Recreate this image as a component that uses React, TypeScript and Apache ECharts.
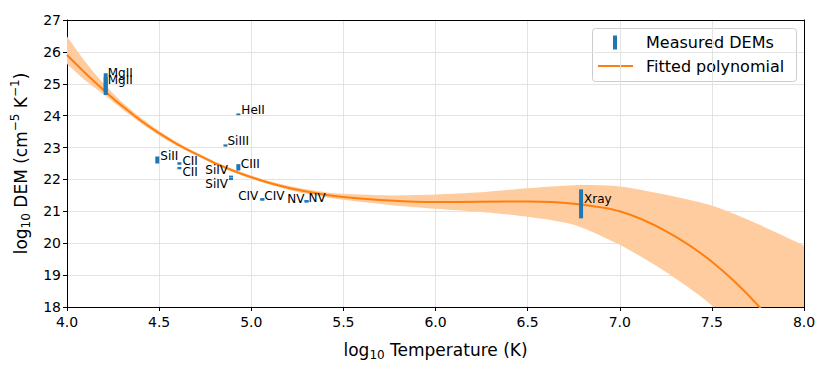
import React, { useEffect, useRef } from "react";
import * as echarts from "echarts";

// Measured DEMs (error bars)
const lineNames = ["MgII", "MgII", "SiII", "CII", "CII", "SiIV", "SiIV", "CIII", "SiIII", "HeII", "CIV", "CIV", "NV", "NV", "Xray"];
const lineTemps = [4.21, 4.21, 4.49, 4.61, 4.61, 4.89, 4.89, 4.93, 4.86, 4.93, 5.06, 5.06, 5.3, 5.3, 6.79];
const demLow = [24.75, 24.65, 22.5, 22.46, 22.32, 22.06, 21.98, 22.28, 23.03, 24.04, 21.34, 21.34, 21.28, 21.28, 20.78];
const demHigh = [25.33, 25.2, 22.72, 22.54, 22.39, 22.12, 22.05, 22.48, 23.1, 24.07, 21.41, 21.41, 21.35, 21.35, 21.69];

// Fitted polynomial and its uncertainty band
const fitT = [4.0, 4.1, 4.2, 4.3, 4.4, 4.5, 4.6, 4.7, 4.8, 4.9, 5.0, 5.1, 5.2, 5.3, 5.4, 5.5, 5.75, 6.0, 6.25, 6.5, 6.75, 7.0, 7.25, 7.5, 7.75, 8.0];
const fitD = [25.9, 25.33, 24.8, 24.3, 23.85, 23.45, 23.1, 22.8, 22.52, 22.28, 22.07, 21.89, 21.74, 21.62, 21.52, 21.45, 21.34, 21.29, 21.3, 21.31, 21.24, 21.0, 20.38, 19.42, 18.05, 16.2];
const bandLow = [25.62, 25.1, 24.66, 24.2, 23.77, 23.38, 23.04, 22.75, 22.47, 22.23, 22.02, 21.84, 21.68, 21.55, 21.44, 21.36, 21.2, 21.08, 20.98, 20.83, 20.58, 19.95, 19.1, 18.05, 16.5, 14.5];
const bandHigh = [26.48, 25.68, 25.0, 24.42, 23.94, 23.52, 23.16, 22.85, 22.57, 22.33, 22.12, 21.94, 21.8, 21.69, 21.6, 21.55, 21.5, 21.53, 21.6, 21.72, 21.82, 21.78, 21.52, 21.18, 20.6, 19.93];

// Axis ticks
const xTicks = { min: 4, max: 8, step: 0.5 };
const yTicks = { min: 18, max: 27, step: 1 };

// Label placement (pixel offsets from top of each bar), style only
const labelOffsets: [number, number, string][] = [
  [2, 0, "left"], [2, 3, "left"], [3, 0, "left"], [3, -1.5, "left"], [3, 5, "left"],
  [-3, -5.5, "right"], [-3, 6, "right"], [2.5, 0, "left"], [2, -3, "left"], [3, -3.5, "left"],
  [-4, -2, "right"], [2, -2, "left"], [-2, -1, "right"], [2, -2, "left"], [3, 10, "left"],
];

const FONT = "DejaVu Sans";
const BLUE = "#1f77b4";
const ORANGE = "#ff7f0e";
const BAND = "#ffcc9f";

export default function App() {
  const ref = useRef<HTMLDivElement>(null);
  useEffect(() => {
    document.body.style.margin = "0";
    const chart = echarts.init(ref.current!, null, { renderer: "svg" });
    const rich = {
      n: { fontSize: 17, fontFamily: FONT, color: "#000" },
      s: { fontSize: 12, fontFamily: FONT, color: "#000", verticalAlign: "bottom", padding: [0, 0, -3, 0] },
      p: { fontSize: 12, fontFamily: FONT, color: "#000", verticalAlign: "top", padding: [-3, 0, 0, 0] },
    };
    const option: any = {
      animation: false,
      grid: { left: 67, right: 26, top: 20, bottom: 62, containLabel: false },
      xAxis: [
        {
          type: "value", min: xTicks.min, max: xTicks.max, interval: xTicks.step, position: "bottom",
          axisLine: { show: true, onZero: false, lineStyle: { color: "#000", width: 1 } },
          axisTick: { show: true, length: 4, lineStyle: { color: "#000" } },
          axisLabel: { color: "#000", fontSize: 14, fontFamily: FONT, margin: 8, formatter: (v: number) => v.toFixed(1) },
          splitLine: { show: true, lineStyle: { color: "#e3e3e3", width: 1 } },
          name: "{n|log}{s|10}{n| Temperature (K)}",
          nameLocation: "middle", nameGap: 34,
          nameTextStyle: { fontSize: 17, fontFamily: FONT, color: "#000", rich },
        },
        {
          type: "value", min: xTicks.min, max: xTicks.max, position: "top",
          axisLine: { show: true, onZero: false, lineStyle: { color: "#000", width: 1 } },
          axisTick: { show: false }, axisLabel: { show: false }, splitLine: { show: false },
        },
      ],
      yAxis: [
        {
          type: "value", min: yTicks.min, max: yTicks.max, interval: yTicks.step, position: "left",
          axisLine: { show: true, onZero: false, lineStyle: { color: "#000", width: 1 } },
          axisTick: { show: true, length: 4, lineStyle: { color: "#000" } },
          axisLabel: { color: "#000", fontSize: 14, fontFamily: FONT, margin: 6 },
          splitLine: { show: true, lineStyle: { color: "#e3e3e3", width: 1 } },
          name: "{n|log}{s|10}{n| DEM (cm}{p|−5}{n| K}{p|−1}{n|)}",
          nameLocation: "middle", nameGap: 30, nameRotate: 90,
          nameTextStyle: { fontSize: 17, fontFamily: FONT, color: "#000", rich },
        },
        {
          type: "value", min: yTicks.min, max: yTicks.max, position: "right",
          axisLine: { show: true, onZero: false, lineStyle: { color: "#000", width: 1 } },
          axisTick: { show: false }, axisLabel: { show: false }, splitLine: { show: false },
        },
      ],
      series: [
        {
          type: "custom", z: 1, clip: true,
          data: [[fitT[0], bandLow[0]]],
          renderItem: (params: any, api: any) => {
            const upper = fitT.map((t, i) => api.coord([t, bandHigh[i]]));
            const lower = fitT.map((t, i) => api.coord([t, bandLow[i]])).reverse();
            // duplicate the corner vertices so the smoothing keeps the ends square
            const pts = [upper[0], ...upper, upper[upper.length - 1], lower[0], ...lower, lower[lower.length - 1]];
            return {
              type: "polygon",
              shape: { points: pts, smooth: 0.25 },
              style: { fill: BAND, stroke: null },
            };
          },
        },
        {
          type: "line", data: fitT.map((t, i) => [t, fitD[i]]),
          showSymbol: false, symbol: "none", smooth: 0.3, clip: true, z: 3,
          lineStyle: { color: ORANGE, width: 2 },
        },
        {
          type: "custom", z: 4, clip: false,
          data: lineTemps.map((t, i) => [t, demLow[i], demHigh[i], i]),
          encode: { x: 0, y: [1, 2] },
          renderItem: (params: any, api: any) => {
            const t = api.value(0), lo = api.value(1), hi = api.value(2), idx = api.value(3);
            const top = api.coord([t, hi]);
            const bot = api.coord([t, lo]);
            const h = Math.max(bot[1] - top[1], 1.8);
            const off = labelOffsets[idx];
            return {
              type: "group",
              children: [
                { type: "rect", shape: { x: top[0] - 2, y: top[1], width: 4, height: h }, style: { fill: BLUE } },
                {
                  type: "text", x: top[0] + off[0], y: top[1] + off[1],
                  style: { text: lineNames[idx], fill: "#000", fontSize: 12, fontFamily: FONT, align: off[2], verticalAlign: "middle" },
                },
              ],
            };
          },
        },
      ],
      graphic: [
        {
          type: "group", z: 100,
          children: [
            { type: "rect", shape: { x: 592.5, y: 28.5, width: 204, height: 53, r: 3 }, style: { fill: "rgba(255,255,255,0.85)", stroke: "#cccccc", lineWidth: 1 } },
            { type: "rect", shape: { x: 613, y: 35.5, width: 4, height: 14 }, style: { fill: BLUE } },
            { type: "text", x: 646, y: 42.5, style: { text: "Measured DEMs", fill: "#000", fontSize: 16, fontFamily: FONT, verticalAlign: "middle" } },
            { type: "line", shape: { x1: 598, y1: 66, x2: 633, y2: 66 }, style: { stroke: ORANGE, lineWidth: 2 } },
            { type: "text", x: 646, y: 66, style: { text: "Fitted polynomial", fill: "#000", fontSize: 16, fontFamily: FONT, verticalAlign: "middle" } },
          ],
        },
      ],
    };
    chart.setOption(option);
    return () => chart.dispose();
  }, []);
  return <div ref={ref} style={{ width: 830, height: 369 }} />;
}
